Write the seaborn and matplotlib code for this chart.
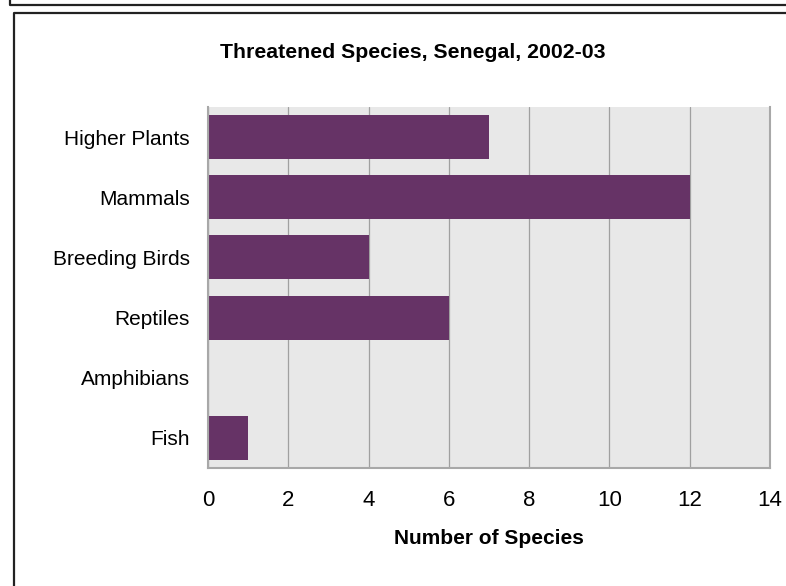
import matplotlib
matplotlib.use("Agg")
import matplotlib.pyplot as plt
import seaborn as sns
import pandas as pd
from matplotlib.lines import Line2D

# 数据
categories = ["Higher Plants", "Mammals", "Breeding Birds", "Reptiles", "Amphibians", "Fish"]
counts = [7, 12, 4, 6, 0, 1]
x_ticks = [0, 2, 4, 6, 8, 10, 12, 14]

sns.set_theme(style="white")
plt.rcParams["font.family"] = ["Liberation Sans", "DejaVu Sans"]
plt.rcParams["text.color"] = "black"
plt.rcParams["axes.labelcolor"] = "black"

df = pd.DataFrame({"Category": categories, "Count": counts})

fig = plt.figure(figsize=(7.86, 5.86), dpi=100)
ax = fig.add_axes([0.2646, 0.2014, 0.9796 - 0.2646, 0.8174 - 0.2014])
ax.set_facecolor("#e8e8e8")

sns.barplot(data=df, x="Count", y="Category", orient="h", color="#663366",
            saturation=1, width=0.73, linewidth=0, ax=ax)

ax.set_xlim(0, 14)
ax.set_xticks(x_ticks)
ax.grid(axis="x", color="#a0a0a0", linewidth=0.9)
ax.set_axisbelow(True)

for side in ["left", "bottom", "right"]:
    ax.spines[side].set_color("#a8a8a8")
    ax.spines[side].set_linewidth(1.5)
ax.spines["top"].set_visible(False)

ax.tick_params(axis="x", length=0, labelsize=16, colors="black", pad=16)
ax.tick_params(axis="y", length=0, labelsize=15, colors="black", pad=13)
ax.set_ylabel("")
ax.set_xlabel("Number of Species", fontsize=15, fontweight="bold", labelpad=13)

# 标题居中于整幅图
fig.text(413 / 786, 1 - 53 / 586, "Threatened Species, Senegal, 2002-03",
         fontsize=15.3, fontweight="bold", ha="center", va="center")

# 外框
fig.add_artist(Line2D([14 / 786, 14 / 786, 1], [0, 1 - 13 / 586, 1 - 13 / 586],
                      color="#222222", linewidth=1.6, transform=fig.transFigure))
fig.add_artist(Line2D([10 / 786, 10 / 786, 1], [1, 1 - 4.5 / 586, 1 - 4.5 / 586],
                      color="#222222", linewidth=1.6, transform=fig.transFigure))

fig.savefig("out.png", dpi=100)
